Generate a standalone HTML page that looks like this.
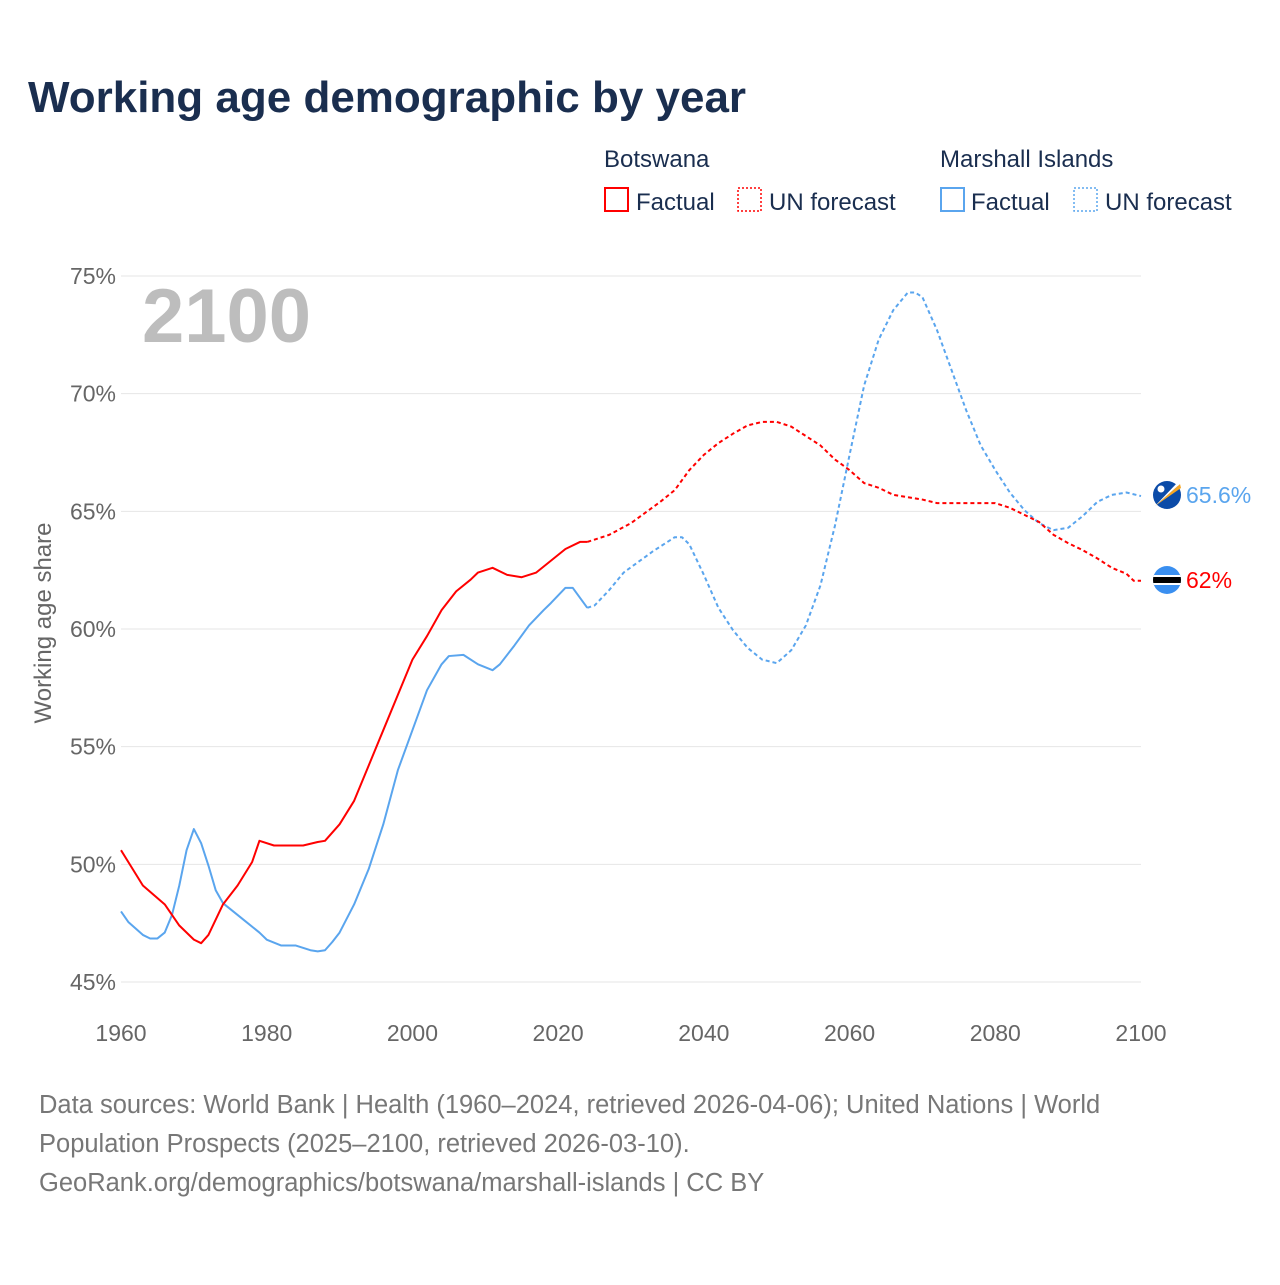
<!DOCTYPE html>
<html><head><meta charset="utf-8"><style>
body{margin:0;background:#fff;font-family:"Liberation Sans",sans-serif;}
svg text{font-family:"Liberation Sans",sans-serif;}
</style></head><body>
<svg id="c" width="1280" height="1280" viewBox="0 0 1280 1280">
<text x="28" y="112" font-size="44" font-weight="bold" fill="#1a2e4f">Working age demographic by year</text>
<g font-size="24" fill="#1a2e4f">
<text x="604" y="167">Botswana</text>
<text x="940" y="167">Marshall Islands</text>
<rect x="605" y="188" width="23" height="23" fill="none" stroke="#f00" stroke-width="2"/>
<text x="636" y="210">Factual</text>
<rect x="738" y="188" width="23" height="23" fill="none" stroke="#f00" stroke-width="1.5" stroke-dasharray="2,2"/>
<text x="769" y="210">UN forecast</text>
<rect x="941" y="188" width="23" height="23" fill="none" stroke="#5aa5ee" stroke-width="2"/>
<text x="971" y="210">Factual</text>
<rect x="1074" y="188" width="23" height="23" fill="none" stroke="#5aa5ee" stroke-width="1.5" stroke-dasharray="2,2"/>
<text x="1105" y="210">UN forecast</text>
</g>
<text x="142" y="342" font-size="76" font-weight="bold" fill="#bdbdbd">2100</text>
<text transform="translate(51,623) rotate(-90)" text-anchor="middle" font-size="24" fill="#666">Working age share</text>
<g id="grid"></g><g id="lines"></g>
<g>
<circle cx="1167" cy="495" r="14" fill="#0b4ba8"/>
<path d="M1155,506 L1180,484 L1181,488 Z" fill="#f5a623"/>
<path d="M1155,506 L1178,482 L1180,484 Z" fill="#fff"/>
<circle cx="1161" cy="489" r="3.5" fill="#fff"/>
</g>
<g>
<clipPath id="bc"><circle cx="1167" cy="580" r="14"/></clipPath>
<circle cx="1167" cy="580" r="14" fill="#3a8ff0"/>
<rect x="1150" y="575" width="34" height="10" fill="#fff" clip-path="url(#bc)"/>
<rect x="1150" y="577" width="34" height="6" fill="#000" clip-path="url(#bc)"/>
</g>
<text x="1186" y="503" font-size="23" fill="#5aa5ee">65.6%</text>
<text x="1186" y="588" font-size="23" fill="#f00">62%</text>
<g font-size="25.5" fill="#777">
<text x="39" y="1113">Data sources: World Bank | Health (1960–2024, retrieved 2026-04-06); United Nations | World</text>
<text x="39" y="1152">Population Prospects (2025–2100, retrieved 2026-03-10).</text>
<text x="39" y="1191">GeoRank.org/demographics/botswana/marshall-islands | CC BY</text>
</g>
</svg>
<script>
const yTicks=[45,50,55,60,65,70,75];
const xTicks=[1960,1980,2000,2020,2040,2060,2080,2100];
const bwYears=[1960,1963,1966,1968,1970,1971,1972,1974,1976,1978,1979,1981,1985,1987,1988,1990,1992,1994,1996,1998,2000,2002,2004,2006,2008,2009,2011,2013,2015,2017,2019,2021,2023,2024];
const bwValues=[50.6,49.1,48.3,47.4,46.8,46.65,47.0,48.3,49.1,50.1,51.0,50.8,50.8,50.95,51.0,51.7,52.7,54.2,55.7,57.2,58.7,59.7,60.8,61.6,62.1,62.4,62.6,62.3,62.2,62.4,62.9,63.4,63.7,63.7];
const bwFcYears=[2024,2027,2030,2034,2036,2038,2040,2042,2044,2046,2048,2050,2052,2054,2056,2058,2060,2062,2064,2066,2068,2070,2072,2080,2082,2084,2086,2088,2090,2092,2094,2096,2098,2099,2100];
const bwFcValues=[63.7,64.0,64.5,65.4,65.9,66.75,67.4,67.9,68.3,68.65,68.8,68.8,68.6,68.2,67.8,67.2,66.75,66.2,66.0,65.7,65.6,65.5,65.35,65.35,65.15,64.85,64.55,64.0,63.65,63.35,63.0,62.6,62.35,62.05,62.05];
const mhYears=[1960,1961,1963,1964,1965,1966,1967,1968,1969,1970,1971,1972,1973,1974,1975,1977,1979,1980,1982,1984,1986,1987,1988,1989,1990,1992,1994,1996,1998,2000,2002,2004,2005,2007,2009,2011,2012,2014,2016,2018,2019,2021,2022,2024];
const mhValues=[48.0,47.55,47.0,46.85,46.85,47.1,47.85,49.1,50.6,51.5,50.9,49.95,48.9,48.35,48.1,47.6,47.1,46.8,46.55,46.55,46.35,46.3,46.35,46.7,47.1,48.3,49.8,51.7,54.0,55.7,57.4,58.5,58.85,58.9,58.5,58.25,58.5,59.3,60.15,60.8,61.1,61.75,61.75,60.9];
const mhFcYears=[2024,2025,2027,2029,2031,2033,2035,2036,2037,2038,2040,2042,2044,2046,2048,2050,2052,2054,2056,2058,2060,2062,2064,2066,2068,2069,2070,2072,2074,2076,2078,2080,2082,2084,2086,2088,2090,2092,2094,2096,2098,2100];
const mhFcValues=[60.9,61.0,61.65,62.4,62.85,63.3,63.7,63.9,63.9,63.6,62.3,60.9,59.95,59.2,58.7,58.55,59.1,60.15,61.85,64.4,67.4,70.35,72.3,73.55,74.3,74.3,74.1,72.7,71.0,69.3,67.8,66.75,65.8,65.05,64.5,64.2,64.3,64.8,65.4,65.7,65.8,65.65];
const X=y=>121+(y-1960)*(1141-121)/140;
const Y=v=>982-(v-45)*(982-276)/30;
const NS="http://www.w3.org/2000/svg";
const grid=document.getElementById('grid'),lines=document.getElementById('lines');
yTicks.forEach(t=>{
 const l=document.createElementNS(NS,'line');
 l.setAttribute('x1',121);l.setAttribute('x2',1141);l.setAttribute('y1',Y(t));l.setAttribute('y2',Y(t));
 l.setAttribute('stroke','#e6e6e6');l.setAttribute('stroke-width','1');
 
 
 grid.appendChild(l);
 const tx=document.createElementNS(NS,'text');
 tx.setAttribute('x',116);tx.setAttribute('y',Y(t)+8);tx.setAttribute('text-anchor','end');
 tx.setAttribute('font-size','23');tx.setAttribute('fill','#666');tx.textContent=t+'%';
 
 
 grid.appendChild(tx);
});
xTicks.forEach(t=>{
 const tx=document.createElementNS(NS,'text');
 tx.setAttribute('x',X(t));tx.setAttribute('y',1041);tx.setAttribute('text-anchor','middle');
 tx.setAttribute('font-size','23');tx.setAttribute('fill','#666');tx.textContent=t;
 
 
 grid.appendChild(tx);
});
function line(xs,vs,color,dash,name){
 const p=document.createElementNS(NS,'polyline');
 p.setAttribute('points',xs.map((x,i)=>X(x)+','+Y(vs[i])).join(' '));
 p.setAttribute('fill','none');p.setAttribute('stroke',color);p.setAttribute('stroke-width','2');
 p.setAttribute('stroke-linejoin','round');
 if(dash)p.setAttribute('stroke-dasharray','4,3');
 
 
 lines.appendChild(p);
}
line(mhYears,mhValues,'#5aa5ee',false,'line-marshall-factual');
line(mhFcYears,mhFcValues,'#5aa5ee',true,'line-marshall-forecast');
line(bwYears,bwValues,'#f00',false,'line-botswana-factual');
line(bwFcYears,bwFcValues,'#f00',true,'line-botswana-forecast');
</script>
</body></html>
